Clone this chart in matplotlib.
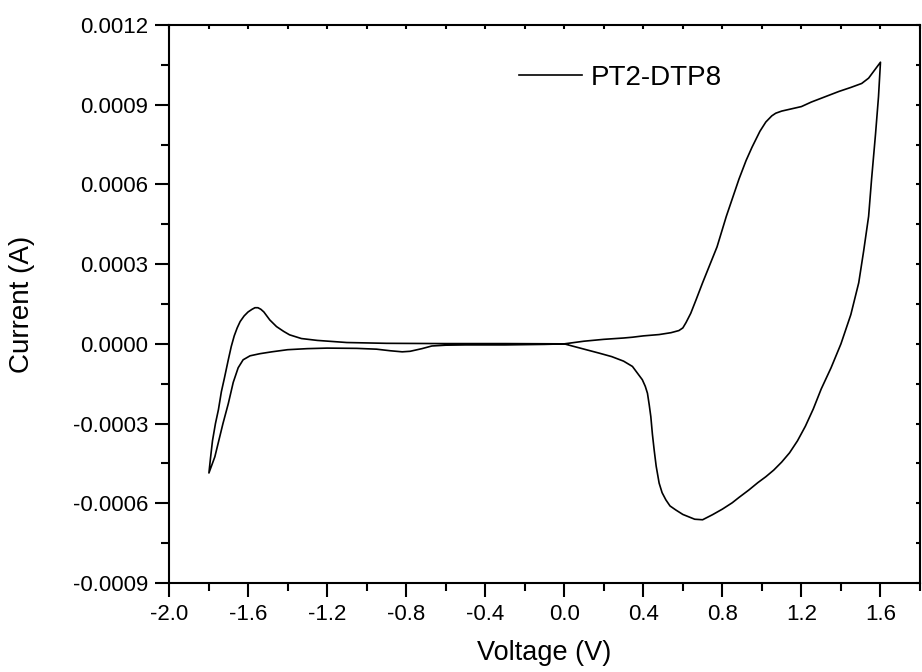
import matplotlib
matplotlib.use('Agg')
import matplotlib.pyplot as plt
from matplotlib.ticker import MultipleLocator, FormatStrFormatter

plt.rcParams['font.family'] = ['Liberation Sans', 'DejaVu Sans']
plt.rcParams['axes.unicode_minus'] = False

# forward scan 0 -> 1.6 V (oxidation)
v_fwd = [0.00, 0.10, 0.20, 0.30, 0.345, 0.40, 0.48, 0.54, 0.58, 0.60, 0.616, 0.64, 0.667,
         0.70, 0.735, 0.773, 0.82, 0.884, 0.92, 0.95, 0.99, 1.02, 1.05, 1.07, 1.10, 1.136,
         1.20, 1.25, 1.32, 1.39, 1.45, 1.505, 1.54, 1.57, 1.60]
i_fwd = [0.0, 0.000010, 0.000017, 0.000022, 0.000025, 0.000030, 0.000035, 0.000042,
         0.000050, 0.000060, 0.000080, 0.000115, 0.000166, 0.000230, 0.000295, 0.000365,
         0.000480, 0.000620, 0.000690, 0.000740, 0.000800, 0.000835, 0.000858, 0.000868,
         0.000876, 0.000882, 0.000893, 0.000910, 0.000930, 0.000950, 0.000965, 0.000980,
         0.001000, 0.001030, 0.001060]

# reverse scan 1.6 -> 0 V (reduction)
v_rev = [1.59, 1.575, 1.555, 1.54, 1.515, 1.49, 1.45, 1.40, 1.35, 1.30, 1.26, 1.22, 1.18,
         1.14, 1.10, 1.06, 1.02, 0.98, 0.934, 0.884, 0.85, 0.80, 0.75, 0.70, 0.66, 0.60,
         0.564, 0.535, 0.514, 0.495, 0.48, 0.465, 0.455, 0.446, 0.438, 0.43, 0.421, 0.41,
         0.395, 0.37, 0.345, 0.30, 0.24, 0.177, 0.10, 0.05, 0.00]
i_rev = [0.000930, 0.000790, 0.000620, 0.000480, 0.000350, 0.000230, 0.000110, 0.0,
         -0.000090, -0.000170, -0.000245, -0.000310, -0.000365, -0.000410, -0.000445,
         -0.000475, -0.000500, -0.000522, -0.000550, -0.000578, -0.000598, -0.000622,
         -0.000643, -0.000662, -0.000660, -0.000642, -0.000625, -0.000610, -0.000587,
         -0.000560, -0.000524, -0.000460, -0.000400, -0.000340, -0.000274, -0.000230,
         -0.000186, -0.000160, -0.000135, -0.000110, -0.000085, -0.000065, -0.000048,
         -0.000035, -0.000020, -0.000010, 0.0]

# cathodic scan 0 -> -1.8 V
v_neg = [-0.10, -0.30, -0.50, -0.60, -0.67, -0.72, -0.78, -0.82, -0.88, -0.95, -1.05, -1.20,
         -1.30, -1.40, -1.48, -1.54, -1.59, -1.625, -1.65, -1.675, -1.70, -1.727, -1.75,
         -1.768, -1.785, -1.798]
i_neg = [-0.000002, -0.000004, -0.000004, -0.000005, -0.000008, -0.000018, -0.000028,
         -0.000030, -0.000026, -0.000020, -0.000017, -0.000016, -0.000018, -0.000022,
         -0.000030, -0.000037, -0.000045, -0.000060, -0.000090, -0.000145, -0.000225,
         -0.000300, -0.000370, -0.000425, -0.000460, -0.000486]

# anodic return -1.8 -> 0 V
v_ret = [-1.79, -1.78, -1.765, -1.75, -1.735, -1.72, -1.70, -1.685, -1.67, -1.655, -1.64,
         -1.62, -1.60, -1.58, -1.565, -1.55, -1.535, -1.52, -1.49, -1.456, -1.42, -1.39,
         -1.33, -1.25, -1.10, -0.90, -0.60, -0.30, 0.00]
i_ret = [-0.000430, -0.000365, -0.000300, -0.000248, -0.000180, -0.000130, -0.000060,
         -0.000010, 0.000030, 0.000060, 0.000084, 0.000105, 0.000120, 0.000130, 0.000136,
         0.000136, 0.000130, 0.000120, 0.000090, 0.000065, 0.000047, 0.000034, 0.000020,
         0.000013, 0.000005, 0.000002, 0.000001, 0.000001, 0.0]

voltage = v_fwd + v_rev + v_neg + v_ret
current = i_fwd + i_rev + i_neg + i_ret

fig = plt.figure(figsize=(9.22, 6.72), dpi=100)
ax = fig.add_axes([169 / 922, 89 / 672, 751 / 922, 558 / 672])

ax.plot(voltage, current, color='black', lw=1.2, label='PT2-DTP8')

ax.set_xlim(-2.0, 1.8)
ax.set_ylim(-0.0009, 0.0012)
ax.set_xticks([-2.0, -1.6, -1.2, -0.8, -0.4, 0.0, 0.4, 0.8, 1.2, 1.6])
ax.set_yticks([-0.0009, -0.0006, -0.0003, 0.0, 0.0003, 0.0006, 0.0009, 0.0012])
ax.xaxis.set_minor_locator(MultipleLocator(0.2))
ax.yaxis.set_minor_locator(MultipleLocator(0.00015))
ax.xaxis.set_major_formatter(FormatStrFormatter('%.1f'))
ax.yaxis.set_major_formatter(FormatStrFormatter('%.4f'))

for s in ax.spines.values():
    s.set_linewidth(1.5)

ax.tick_params(which='major', direction='out', length=10, width=1.5, labelsize=16, pad=5)
ax.tick_params(which='minor', direction='out', length=6, width=1.5)
ax.tick_params(which='both', top=True, right=True)
# small inward ticks on the top and right spines
for t in ax.xaxis.get_ticklines(minor=False)[1::2] + ax.xaxis.get_ticklines(minor=True)[1::2]:
    t.set_markersize(3)
    t.set_marker(3)
for t in ax.yaxis.get_ticklines(minor=False)[1::2] + ax.yaxis.get_ticklines(minor=True)[1::2]:
    t.set_markersize(3)
    t.set_marker(0)

ax.set_xlabel('Voltage (V)', fontsize=19.5)
ax.set_ylabel('Current (A)', fontsize=20)
ax.xaxis.set_label_coords(0.5, -0.102)
ax.yaxis.set_label_coords(-0.178, 0.5)

ax.legend(loc='center left', bbox_to_anchor=(0.466, 0.905), frameon=False, fontsize=20,
          borderpad=0, borderaxespad=0, handlelength=2.27, handletextpad=0.3)

fig.savefig('out.png', dpi=100)
